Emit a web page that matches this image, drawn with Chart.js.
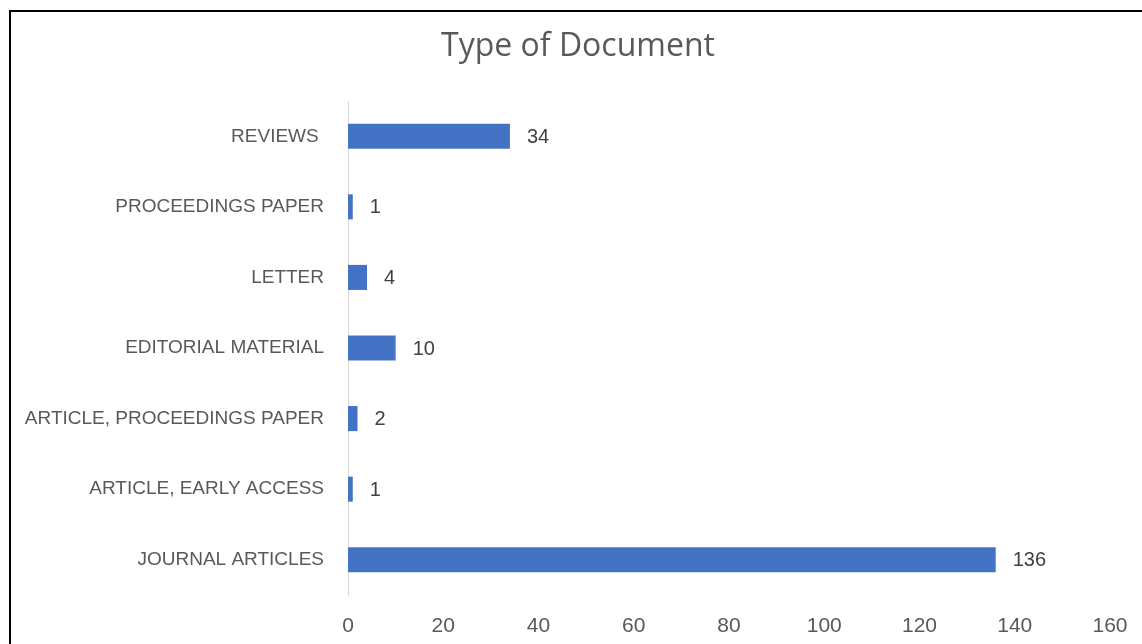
<!DOCTYPE html>
<html>
<head>
<meta charset="utf-8">
<script src="https://cdn.jsdelivr.net/npm/chart.js@4.4.1/dist/chart.umd.min.js"></script>
<style>
  html, body { margin: 0; padding: 0; background: #fff; overflow: hidden; }
  #frame {
    position: absolute; left: 9px; top: 10px;
    width: 1300px; height: 800px;
    border: 2px solid #000;
  }
  #wrap { position: absolute; left: 0; top: 0; width: 1142px; height: 644px; }
</style>
</head>
<body>
<div id="frame"></div>
<div id="wrap"><canvas id="docTypeChart"></canvas></div>
<script>
// document types, listed top to bottom
const categories = [
    'REVIEWS ',
    'PROCEEDINGS PAPER',
    'LETTER',
    'EDITORIAL MATERIAL',
    'ARTICLE, PROCEEDINGS PAPER',
    'ARTICLE, EARLY ACCESS',
    'JOURNAL ARTICLES'
];
const counts = [34, 1, 4, 10, 2, 1, 136];
const axisMin = 0;
const axisMax = 160;
const axisStep = 20;
const chartTitle = 'Type of Document';

const labelFont = "'Liberation Sans', Arial, sans-serif";

// writes the count just past the end of each bar
const barValues = {
    id: 'barValues',
    afterDatasetsDraw(chart) {
        const ctx = chart.ctx;
        const meta = chart.getDatasetMeta(0);
        ctx.save();
        ctx.font = "20px " + labelFont;
        ctx.fillStyle = '#404040';
        ctx.textAlign = 'left';
        ctx.textBaseline = 'middle';
        meta.data.forEach(function(bar, i) {
            ctx.fillText(String(counts[i]), bar.x + 17, bar.y + 1);
        });
        ctx.restore();
    }
};

// title sits over the middle of the framed box, not the canvas
const boxTitle = {
    id: 'boxTitle',
    afterDraw(chart) {
        const ctx = chart.ctx;
        ctx.save();
        ctx.font = "32px 'Open Sans', sans-serif";
        ctx.fillStyle = '#595959';
        ctx.textAlign = 'center';
        ctx.textBaseline = 'middle';
        ctx.fillText(chartTitle, 578, 47);
        ctx.restore();
    }
};

document.addEventListener("DOMContentLoaded", function() {
    const canvas = document.getElementById('docTypeChart');

    new Chart(canvas, {
        type: 'bar',
        data: {
            labels: categories,
            datasets: [{
                label: 'Documents',
                data: counts,
                backgroundColor: '#4472C4',
                borderWidth: 0,
                categoryPercentage: 1.0,
                barPercentage: 0.355
            }]
        },
        options: {
            indexAxis: 'y',
            responsive: true,
            maintainAspectRatio: false,
            animation: false,
            layout: { padding: { left: 0, right: 32, top: 101, bottom: 0 } },
            scales: {
                x: {
                    min: axisMin,
                    max: axisMax,
                    ticks: {
                        stepSize: axisStep,
                        color: '#595959',
                        padding: 19,
                        font: { family: labelFont, size: 21 }
                    },
                    grid: { display: false, drawTicks: false },
                    border: { display: false },
                    afterFit(scale) {
                        scale.height = 49;
                        scale.paddingLeft = 0;
                        scale.paddingRight = 0;
                    }
                },
                y: {
                    ticks: {
                        color: '#595959',
                        padding: 24,
                        font: { family: labelFont, size: 19 }
                    },
                    grid: { display: false, drawTicks: false },
                    border: { display: true, color: '#D9D9D9', width: 1 },
                    afterFit(scale) { scale.width = 348; }
                }
            },
            plugins: {
                legend: { display: false },
                tooltip: { enabled: false },
                title: { display: false }
            }
        },
        plugins: [barValues, boxTitle]
    });
});
</script>
</body>
</html>
